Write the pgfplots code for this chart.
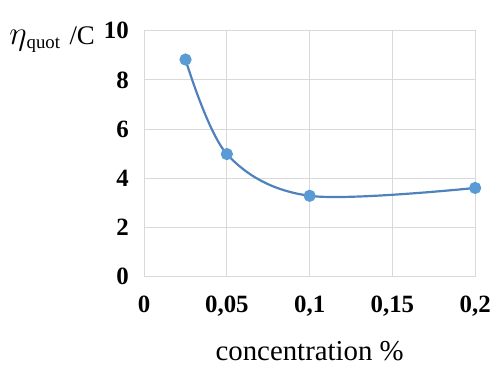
\documentclass[border=0pt]{standalone}
\usepackage{fontspec}
\setmainfont{Liberation Serif}
\usepackage{graphicx}
\usepackage{pgfplots}
\pgfplotsset{compat=1.18}
\definecolor{gridc}{RGB}{217,217,217}
\definecolor{linec}{RGB}{79,129,189}
\definecolor{markc}{RGB}{91,155,213}
\begin{document}
\begin{tikzpicture}
\begin{axis}[
  scale only axis,
  width=333pt, height=247pt,
  xmin=0, xmax=0.2, ymin=0, ymax=10,
  xtick={0,0.05,0.1,0.15,0.2},
  xticklabels={0,{0,05},{0,1},{0,15},{0,2}},
  ytick={0,2,4,6,8,10},
  yticklabels={0,2,4,6,8,10},
  grid=major,
  grid style={gridc, line width=1pt},
  axis line style={gridc, line width=1pt},
  major tick length=0pt,
  tick label style={font=\fontsize{25}{28}\selectfont\bfseries},
  xticklabel style={yshift=-16pt},
  yticklabel style={xshift=-12pt},
  xlabel={concentration \%},
  xlabel style={font=\fontsize{29}{32}\selectfont, yshift=-18pt},
  /pgf/number format/assume math mode=true,
  clip=false,
]
\addplot[color=linec, line width=2.2pt, smooth, tension=0.55, mark=*, mark size=5pt, mark options={fill=markc, draw=markc}]
  coordinates {(0.025,8.83) (0.05,4.98) (0.1,3.28) (0.2,3.6)};
\coordinate (SW) at (rel axis cs:0,0);
\coordinate (NE) at (rel axis cs:1,1);
\node[anchor=base east, font=\fontsize{27}{30}\selectfont, xshift=-46pt, yshift=-14pt] at (rel axis cs:0,1) {\scalebox{1.35}{$\eta$}$_{\mathrm{quot}}$\,\,/C};
\end{axis}
\path ([xshift=-145pt,yshift=-96pt]SW) rectangle ([xshift=16pt,yshift=31pt]NE);
\end{tikzpicture}
\end{document}
